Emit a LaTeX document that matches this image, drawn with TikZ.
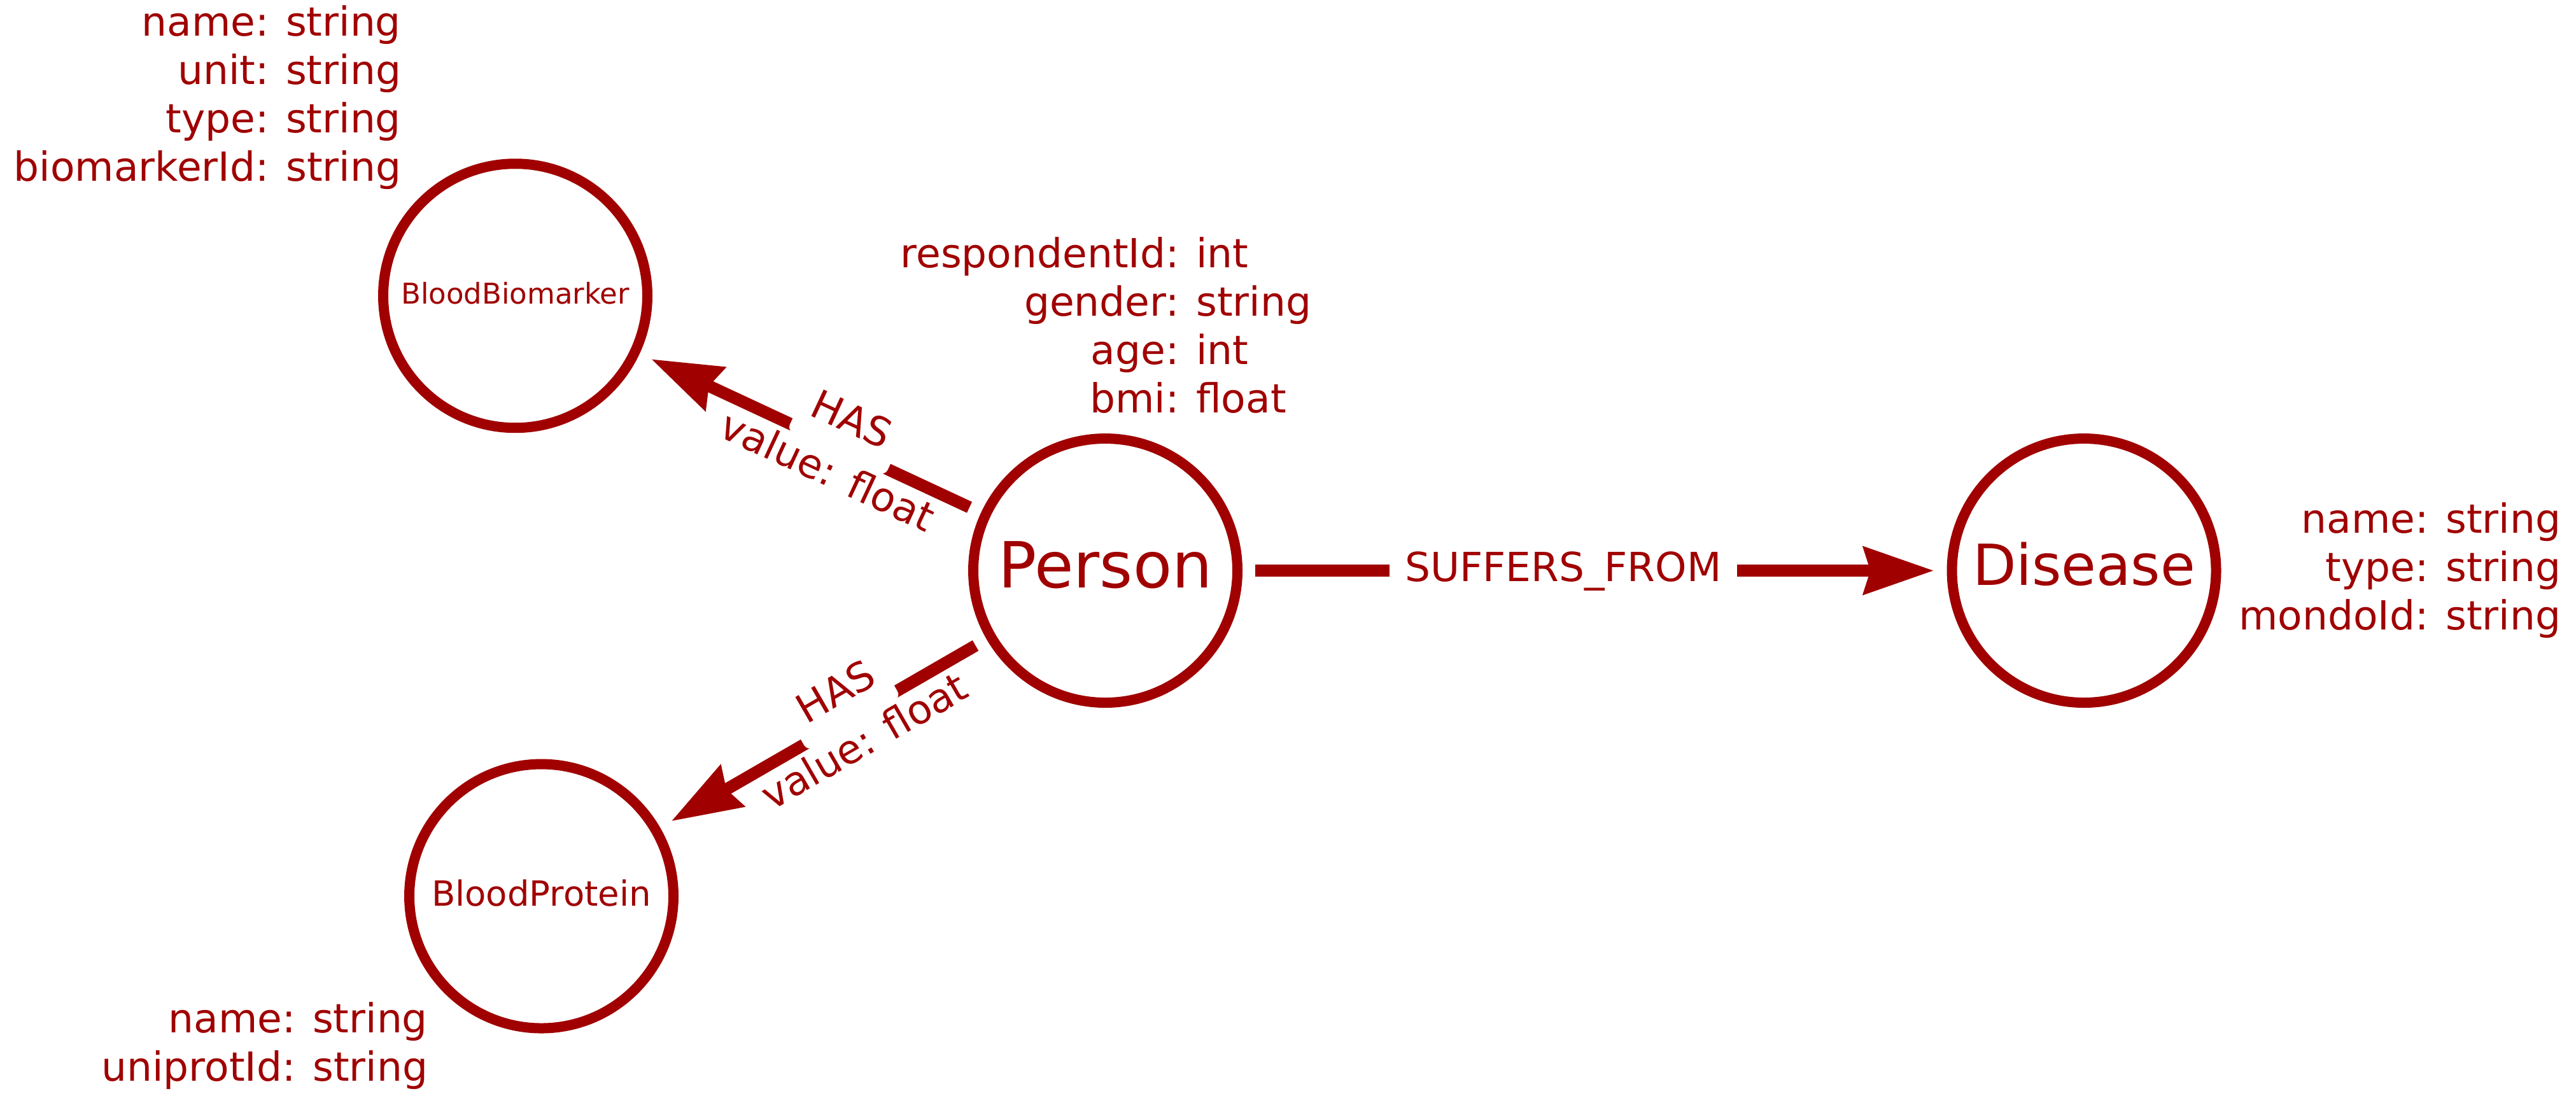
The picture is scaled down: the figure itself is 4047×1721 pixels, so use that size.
\documentclass[tikz,border=0pt]{standalone}
\usepackage{fontspec}
\setmainfont{DejaVu Sans}
\usetikzlibrary{arrows.meta,calc}
\definecolor{nred}{HTML}{A00000}
\begin{document}
\begin{tikzpicture}[x=0.1pt,y=-0.1pt,
  entity/.style={circle, draw=nred, line width=1.6pt, minimum size=41.5pt,
    inner sep=0pt, outer sep=0pt, text=nred, fill=white},
  bigcap/.style={font=\fontsize{10pt}{12pt}\selectfont, text height=7.29pt, text depth=1.99pt},
  discap/.style={font=\fontsize{8.9pt}{10.7pt}\selectfont, text height=6.49pt, text depth=1.89pt},
  biocap/.style={font=\fontsize{4.5pt}{5.4pt}\selectfont, text height=3.28pt, text depth=0.82pt},
  protcap/.style={font=\fontsize{5.45pt}{6.5pt}\selectfont, text height=3.97pt, text depth=0.97pt},
  props/.style={anchor=base east, inner sep=0pt, text=nred,
    font=\fontsize{6.3pt}{7.6pt}\selectfont},
  rel/.style={draw=nred, line width=1.9pt,
    -{Stealth[length=11pt,width=7.3pt,inset=1pt]},
    shorten <=2.8pt, shorten >=2.8pt},
  edgetxt/.style={text=nred, font=\fontsize{6.3pt}{7.6pt}\selectfont, inner ysep=0pt},
  typebox/.style={edgetxt, sloped, anchor=base, yshift=2.5pt, fill=white,
    rounded corners=1pt, text height=4.6pt, text depth=3.6pt, inner xsep=1.95pt},
  propbox/.style={edgetxt, sloped, anchor=base, yshift=-6.5pt, inner xsep=0pt},
  sufbox/.style={edgetxt, fill=white, text height=4.6pt, text depth=1.2pt,
    inner xsep=2.45pt, inner ysep=0.5pt}
]
\useasboundingbox (0,0) rectangle (4047,1721);

% entities
\node[entity, bigcap] (person) at (1736.5,896.5) {Person};
\node[entity, discap] (disease) at (3274,896.5) {Disease};
\node[entity, biocap] (bio) at (809.5,464.7) {BloodBiomarker};
\node[entity, protcap] (prot) at (850.5,1408) {BloodProtein};

% property lists
\node[props] (bioprops) at (632,56) {\begin{tabular}[t]{@{}r@{: }l@{}}
name&string\\unit&string\\type&string\\biomarkerId&string\end{tabular}};
\node[props] (personprops) at (2062,420.5) {\begin{tabular}[t]{@{}r@{: }l@{}}
respondentId&int\\gender&string\\age&int\\bmi&float\end{tabular}};
\node[props] (diseaseprops) at (4025,837) {\begin{tabular}[t]{@{}r@{: }l@{}}
name&string\\type&string\\mondoId&string\end{tabular}};
\node[props] (protprops) at (674,1622) {\begin{tabular}[t]{@{}r@{: }l@{}}
name&string\\uniprotId&string\end{tabular}};

% relationships
\draw[rel] (person) -- node[pos=0.456, sufbox] (suflabel) {SUFFERS\_FROM} (disease);
\draw[rel] (person) -- node[pos=0.418, typebox] (has1) {HAS}
                       node[pos=0.418, propbox] (has1p) {value: float} (bio);
\draw[rel] (person) -- node[pos=0.419, typebox] (has2) {HAS}
                       node[pos=0.419, propbox] (has2p) {value: float} (prot);
\end{tikzpicture}
\end{document}
